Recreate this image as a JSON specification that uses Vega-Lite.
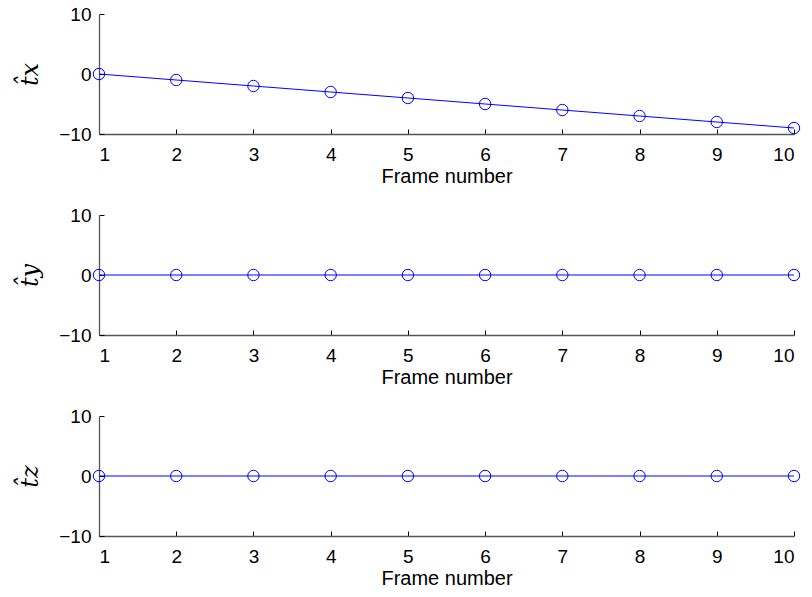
{
  "$schema": "https://vega.github.io/schema/vega-lite/v6.json",
  "background": "white",
  "padding": {"left": 18, "top": 5, "right": 5, "bottom": 5},
  "spacing": 20,
  "config": {
    "view": {"stroke": null},
    "font": "Liberation Sans",
    "axis": {
      "grid": false,
      "domainColor": "#555555",
      "domainWidth": 1.3,
      "tickColor": "#000000",
      "tickSize": -5,
      "labelFont": "Liberation Sans",
      "labelFontSize": 19,
      "labelColor": "#000000",
      "titleFont": "Liberation Sans",
      "titleFontSize": 20,
      "titleFontWeight": "normal",
      "titleColor": "#000000"
    },
    "axisX": {"labelPadding": 16, "titlePadding": 2},
    "axisY": {"labelPadding": 13, "titleFont": "DejaVu Serif", "titleFontStyle": "italic", "titleFontSize": 24, "titlePadding": 16}
  },
  "datasets": {
    "t": [
      {"frame": 1, "comp": "x", "value": 0},
      {"frame": 2, "comp": "x", "value": -1},
      {"frame": 3, "comp": "x", "value": -2},
      {"frame": 4, "comp": "x", "value": -3},
      {"frame": 5, "comp": "x", "value": -4},
      {"frame": 6, "comp": "x", "value": -5},
      {"frame": 7, "comp": "x", "value": -6},
      {"frame": 8, "comp": "x", "value": -7},
      {"frame": 9, "comp": "x", "value": -8},
      {"frame": 10, "comp": "x", "value": -9},
      {"frame": 1, "comp": "y", "value": 0},
      {"frame": 2, "comp": "y", "value": 0},
      {"frame": 3, "comp": "y", "value": 0},
      {"frame": 4, "comp": "y", "value": 0},
      {"frame": 5, "comp": "y", "value": 0},
      {"frame": 6, "comp": "y", "value": 0},
      {"frame": 7, "comp": "y", "value": 0},
      {"frame": 8, "comp": "y", "value": 0},
      {"frame": 9, "comp": "y", "value": 0},
      {"frame": 10, "comp": "y", "value": 0},
      {"frame": 1, "comp": "z", "value": 0},
      {"frame": 2, "comp": "z", "value": 0},
      {"frame": 3, "comp": "z", "value": 0},
      {"frame": 4, "comp": "z", "value": 0},
      {"frame": 5, "comp": "z", "value": 0},
      {"frame": 6, "comp": "z", "value": 0},
      {"frame": 7, "comp": "z", "value": 0},
      {"frame": 8, "comp": "z", "value": 0},
      {"frame": 9, "comp": "z", "value": 0},
      {"frame": 10, "comp": "z", "value": 0}
    ]
  },
  "vconcat": [
    {
      "width": 695, "height": 120,
      "data": {"name": "t"},
      "transform": [{"filter": "datum.comp === 'x'"}],
      "encoding": {
        "x": {"field": "frame", "type": "quantitative", "scale": {"domain": [1, 10], "nice": false},
              "axis": {"values": [1,2,3,4,5,6,7,8,9,10], "title": "Frame number"}},
        "y": {"field": "value", "type": "quantitative", "scale": {"domain": [-10, 10], "nice": false},
              "axis": {"values": [-10, 0, 10], "title": "t̂x"}}
      },
      "layer": [
        {"mark": {"type": "line", "color": "#0000ff", "strokeWidth": 1}},
        {"mark": {"type": "point", "shape": "circle", "filled": false, "color": "#0000ff", "size": 130, "strokeWidth": 1, "opacity": 1}}
      ]
    },
    {
      "width": 695, "height": 120,
      "data": {"name": "t"},
      "transform": [{"filter": "datum.comp === 'y'"}],
      "encoding": {
        "x": {"field": "frame", "type": "quantitative", "scale": {"domain": [1, 10], "nice": false},
              "axis": {"values": [1,2,3,4,5,6,7,8,9,10], "title": "Frame number"}},
        "y": {"field": "value", "type": "quantitative", "scale": {"domain": [-10, 10], "nice": false},
              "axis": {"values": [-10, 0, 10], "title": "t̂y"}}
      },
      "layer": [
        {"mark": {"type": "line", "color": "#0000ff", "strokeWidth": 1}},
        {"mark": {"type": "point", "shape": "circle", "filled": false, "color": "#0000ff", "size": 130, "strokeWidth": 1, "opacity": 1}}
      ]
    },
    {
      "width": 695, "height": 120,
      "data": {"name": "t"},
      "transform": [{"filter": "datum.comp === 'z'"}],
      "encoding": {
        "x": {"field": "frame", "type": "quantitative", "scale": {"domain": [1, 10], "nice": false},
              "axis": {"values": [1,2,3,4,5,6,7,8,9,10], "title": "Frame number"}},
        "y": {"field": "value", "type": "quantitative", "scale": {"domain": [-10, 10], "nice": false},
              "axis": {"values": [-10, 0, 10], "title": "t̂z"}}
      },
      "layer": [
        {"mark": {"type": "line", "color": "#0000ff", "strokeWidth": 1}},
        {"mark": {"type": "point", "shape": "circle", "filled": false, "color": "#0000ff", "size": 130, "strokeWidth": 1, "opacity": 1}}
      ]
    }
  ]
}
